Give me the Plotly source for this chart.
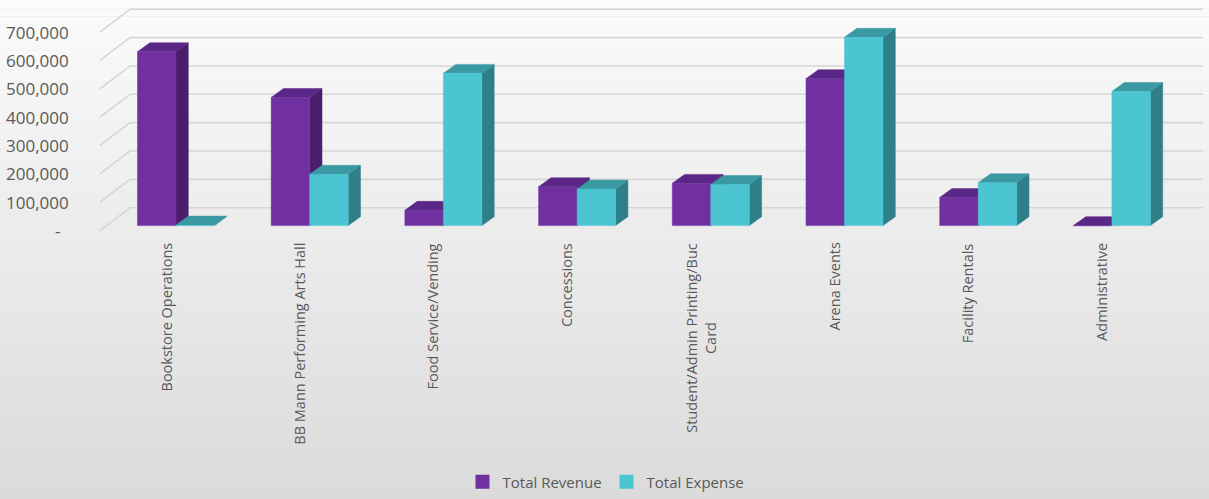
import plotly.graph_objects as go

# ---- data -------------------------------------------------------------
categories = [
    "Bookstore Operations",
    "BB Mann Performing Arts Hall",
    "Food Service/Vending",
    "Concessions",
    "Student/Admin Printing/Buc<br>Card",
    "Arena Events",
    "Facility Rentals",
    "Administrative",
]
total_revenue = [613000, 452000, 54000, 137000, 149000, 518000, 99000, 0]
total_expense = [2000, 181000, 537000, 129000, 145000, 664000, 151000, 473000]
y_ticks = [0, 100000, 200000, 300000, 400000, 500000, 600000, 700000]

# ---- styling ----------------------------------------------------------
W, H = 1209, 499
M_L, M_R, M_T, M_B = 80, 4, 0, 259
PX_PER_CAT = 133.7          # pixels between category centres
CAT0_PX = 176               # pixel x of the first category centre
PX_PER_UNIT_Y = 0.000286    # pixels per currency unit
BASE_PX = 227.5             # pixel y of the bar baseline

plot_w = W - M_L - M_R
plot_h = H - M_T - M_B
x_lo = -(CAT0_PX - M_L) / PX_PER_CAT
x_hi = x_lo + plot_w / PX_PER_CAT
y_hi = (BASE_PX - M_T) / PX_PER_UNIT_Y
y_lo = y_hi - plot_h / PX_PER_UNIT_Y

BAR_W = 0.288               # bar width in category units
DEPTH_DX = 12.3 / PX_PER_CAT
DEPTH_DY = 9.0 / PX_PER_UNIT_Y

WALL_FRONT_X = (100 - CAT0_PX) / PX_PER_CAT
WALL_BACK_X = (130 - CAT0_PX) / PX_PER_CAT
WALL_RIGHT_X = (1203 - CAT0_PX) / PX_PER_CAT
WALL_FRONT_DY = -5.0 / PX_PER_UNIT_Y
WALL_BACK_DY = 18.0 / PX_PER_UNIT_Y

TEXT = "#595959"
FONT = "Open Sans"

series = [
    ("Total Revenue", total_revenue, -BAR_W, "#7030a0", "#5a2687", "#4a1e6c"),
    ("Total Expense", total_expense, 0.0, "#4bc5d2", "#3b99a4", "#2e7f88"),
]

fig = go.Figure()

# gridlines on the back wall, joined to the front edge by the side wall
gx, gy = [], []
for t in y_ticks:
    gx += [WALL_FRONT_X, WALL_BACK_X, WALL_RIGHT_X, None]
    gy += [t + WALL_FRONT_DY, t + WALL_BACK_DY, t + WALL_BACK_DY, None]
fig.add_trace(go.Scatter(x=gx, y=gy, mode="lines",
                         line=dict(color="#d6d6d6", width=1.6),
                         hoverinfo="skip", showlegend=False))


def faces(values, offset):
    side_x, side_y, top_x, top_y, front_x, front_y = [], [], [], [], [], []
    for i, v in enumerate(values):
        x0 = i + offset
        x1 = x0 + BAR_W
        side_x += [x1, x1 + DEPTH_DX, x1 + DEPTH_DX, x1, x1, None]
        side_y += [0, DEPTH_DY, v + DEPTH_DY, v, 0, None]
        top_x += [x0, x1, x1 + DEPTH_DX, x0 + DEPTH_DX, x0, None]
        top_y += [v, v, v + DEPTH_DY, v + DEPTH_DY, v, None]
        front_x += [x0, x1, x1, x0, x0, None]
        front_y += [0, 0, v, v, 0, None]
    return (side_x, side_y), (top_x, top_y), (front_x, front_y)


for name, vals, off, c_front, c_top, c_side in series:
    side, top, front = faces(vals, off)
    for (fx, fy), col in ((side, c_side), (top, c_top), (front, c_front)):
        fig.add_trace(go.Scatter(x=fx, y=fy, mode="lines", fill="toself",
                                 fillcolor=col, line=dict(color=col, width=0.5),
                                 hoverinfo="skip", showlegend=False))
    # legend entry
    fig.add_trace(go.Scatter(x=[None], y=[None], mode="markers", name=name,
                             marker=dict(symbol="square", size=14, color=c_front)))

annotations = []
# value axis labels (aligned with the front edge of the floor)
for t in y_ticks:
    label = f"{t:,}" if t else "-"
    annotations.append(dict(
        x=(71 - M_L) / plot_w, xref="paper", xanchor="right",
        y=t + WALL_FRONT_DY, yref="y", yanchor="middle",
        text=label, showarrow=False, xshift=(-9 if t == 0 else 0),
        font=dict(family=FONT, size=17, color=TEXT)))

# category labels, rotated
for i, c in enumerate(categories):
    annotations.append(dict(
        x=i, xref="x", xanchor="center", xshift=-10,
        y=(plot_h - 243 + M_T) / plot_h, yref="paper", yanchor="top",
        text=c, textangle=-90, showarrow=False, align="center",
        font=dict(family=FONT, size=14.5, color=TEXT)))

# soft vertical background gradient
shapes = []
n_strips = 60
top_c, bot_c = (251, 251, 251), (219, 219, 219)
for k in range(n_strips):
    p0 = k * H / n_strips
    p1 = (k + 1) * H / n_strips + (20 if k == n_strips - 1 else 0)
    f = (k + 0.5) / n_strips
    rgb = tuple(round(a + (b - a) * f) for a, b in zip(top_c, bot_c))
    shapes.append(dict(
        type="rect", xref="paper", yref="paper", layer="below",
        x0=-M_L / plot_w, x1=(W - M_L) / plot_w,
        y0=(plot_h + M_T - p1) / plot_h - 0.0005, y1=(plot_h + M_T - p0) / plot_h + 0.0005,
        fillcolor=f"rgb{rgb}", line=dict(width=0)))

fig.update_layout(
    width=W, height=H,
    margin=dict(l=M_L, r=M_R, t=M_T, b=M_B, pad=0),
    paper_bgcolor="rgb(220,220,220)",
    plot_bgcolor="rgba(0,0,0,0)",
    xaxis=dict(range=[x_lo, x_hi], visible=False, fixedrange=True),
    yaxis=dict(range=[y_lo, y_hi], visible=False, fixedrange=True),
    showlegend=True,
    legend=dict(orientation="h", x=(606 - M_L) / plot_w, xanchor="center",
                y=(plot_h + M_T - 486) / plot_h, yanchor="middle",
                font=dict(family=FONT, size=15, color=TEXT),
                bgcolor="rgba(0,0,0,0)", itemclick=False),
    annotations=annotations,
    shapes=shapes,
    hovermode=False,
)

fig.write_html("out.html")
